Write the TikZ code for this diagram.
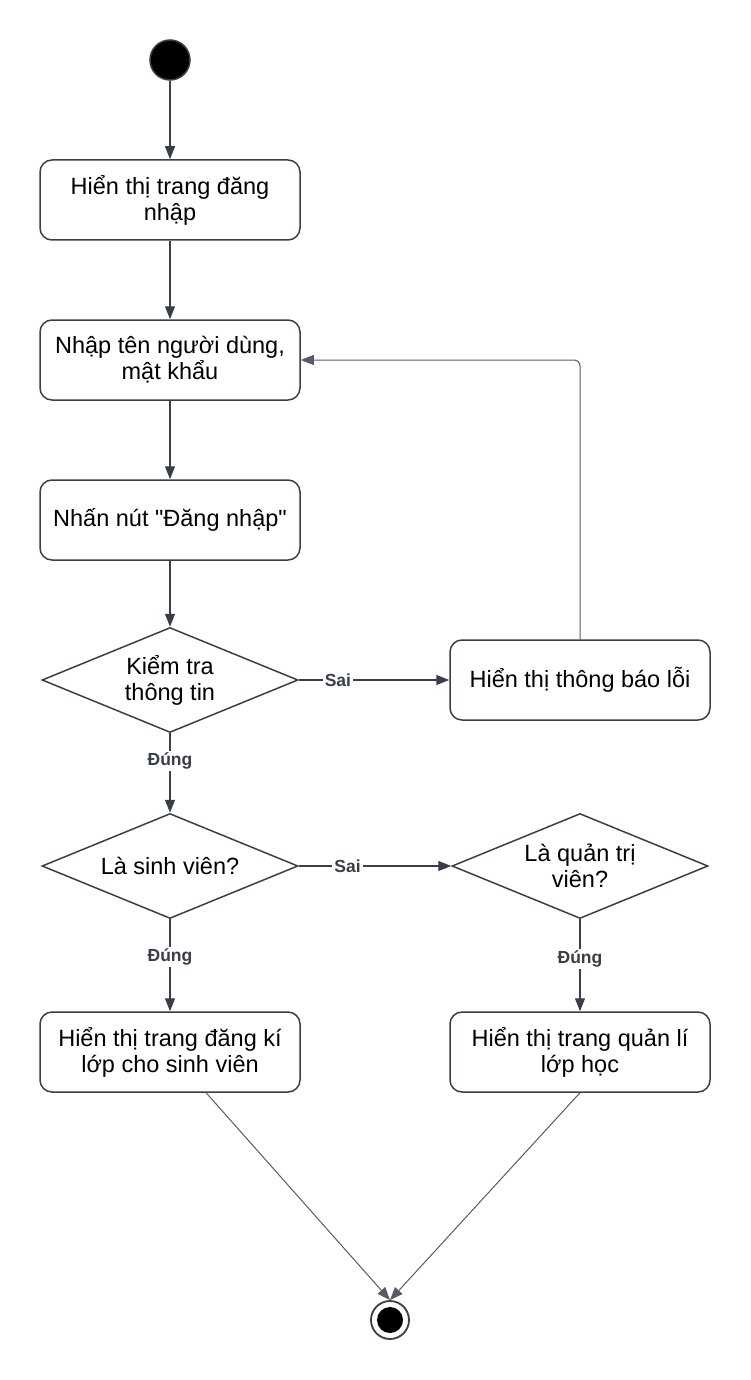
\documentclass[tikz,border=0pt]{standalone}
\usepackage{fontspec}
\setmainfont{Liberation Sans}[Ligatures=TeXOff]
\usepackage{xcolor}
\usetikzlibrary{arrows.meta}
\usetikzlibrary{shapes.geometric}

\definecolor{ln}{RGB}{58,62,72}

\begin{document}
\begin{tikzpicture}[x=1pt,y=-1pt,
    >={Triangle[length=13pt,width=10pt]},
    act/.style={draw=ln, line width=1.5pt, rounded corners=12pt,
      minimum width=260pt, minimum height=80pt, align=center,
      font=\fontsize{23.5}{26}\selectfont},
    dec/.style={draw=ln, line width=1.5pt, diamond, aspect=2.44,
      inner sep=0pt, minimum width=256pt, minimum height=105pt,
      align=center, font=\fontsize{23.5}{26}\selectfont},
    flow/.style={draw=ln, line width=1.3pt},
    thin flow/.style={draw=ln!85, line width=1pt},
    lab/.style={fill=white, inner sep=2pt, text=ln,
      font=\fontsize{17.5}{19}\selectfont\bfseries}]
  \useasboundingbox (0,0) rectangle (750,1380);

  \node (st) [circle, fill=black, draw=ln, line width=1.5pt,
    minimum size=40pt, inner sep=0pt] at (170,60) {};
  \node (dn) [act] at (170,200) {Hiển thị trang đăng\\nhập};
  \node (nt) [act] at (170,360) {Nhập tên người dùng,\\mật khẩu};
  \node (nn) [act] at (170,520) {Nhấn nút "Đăng nhập"};
  \node (kt) [dec] at (170,680) {Kiểm tra\\thông tin};
  \node (bl) [act] at (580,680) {Hiển thị thông báo lỗi};
  \node (sv) [dec] at (170,866) {Là sinh viên?};
  \node (qt) [dec] at (580,866) {Là quản trị\\viên?};
  \node (dk) [act] at (170,1052) {Hiển thị trang đăng kí\\lớp cho sinh viên};
  \node (ql) [act] at (580,1052) {Hiển thị trang quản lí\\lớp học};
  \node (en) [circle, draw=ln, fill=white, line width=1.8pt,
    minimum size=38pt, inner sep=0pt,
    path picture={\fill[black] (path picture bounding box.center)
      circle (13pt);}] at (390,1320) {};

  \draw[->, flow] (st) -- (dn);
  \draw[->, flow] (dn) -- (nt);
  \draw[->, flow] (nt) -- (nn);
  \draw[->, flow] (nn) -- (kt);
  \draw[->, flow] (kt) -- (bl) node[lab, pos=.26] {Sai};
  \draw[->, thin flow, rounded corners=6pt] (bl.north) |- (nt.east);
  \draw[->, flow] (kt) -- (sv) node[lab, pos=.35] {Đúng};
  \draw[->, flow] (sv) -- (qt) node[lab, pos=.32] {Sai};
  \draw[->, flow] (sv) -- (dk) node[lab, pos=.41] {Đúng};
  \draw[->, flow] (qt) -- (ql) node[lab, pos=.43] {Đúng};
  \draw[->, thin flow] (dk) -- (en.north);
  \draw[->, thin flow] (ql.south) -- (en.north);
\end{tikzpicture}
\end{document}
